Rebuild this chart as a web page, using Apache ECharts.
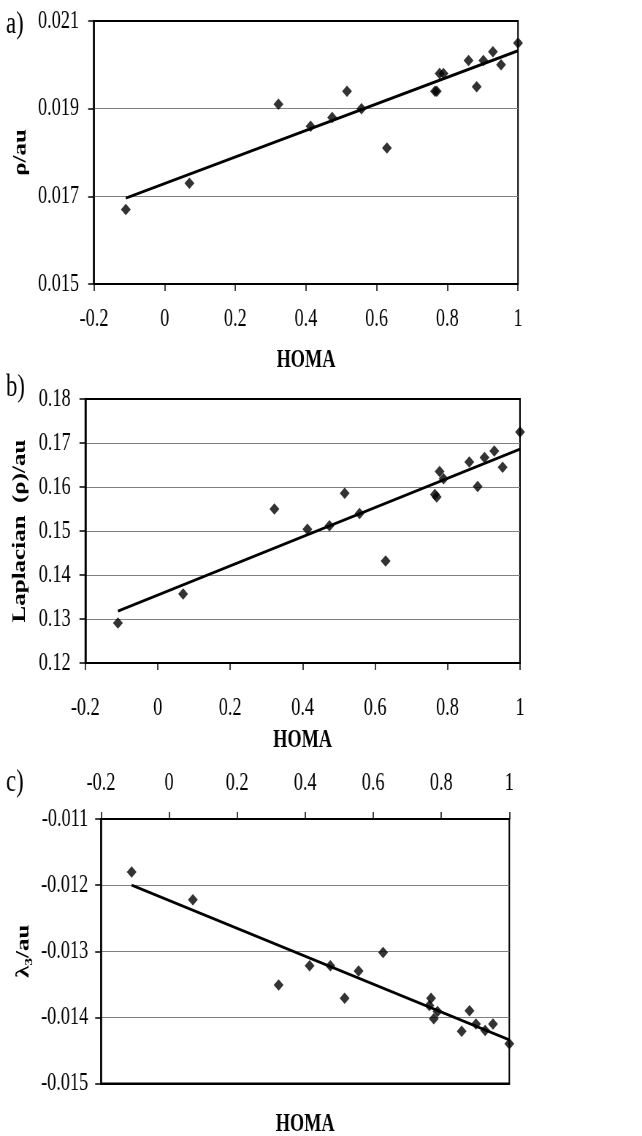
<!DOCTYPE html>
<html><head><meta charset="utf-8">
<script src="https://cdn.jsdelivr.net/npm/echarts@6/dist/echarts.min.js"></script>
<style>
html,body{margin:0;padding:0;background:#fff;overflow:hidden;}
#wrap{width:642px;height:1136px;overflow:hidden;position:relative;}
#chart{width:879px;height:1136px;transform:scaleX(0.7304);transform-origin:0 0;}
</style></head><body><div id="wrap"><div id="chart"></div></div>
<script>
// ---- data ----
const homa = [-0.11, 0.07, 0.322, 0.413, 0.474, 0.516, 0.557, 0.629, 0.765, 0.77, 0.778, 0.789, 0.86, 0.883, 0.902, 0.929, 0.952, 1.0];
const rhoA = [0.0167, 0.0173, 0.0191, 0.0186, 0.0188, 0.0194, 0.0190, 0.0181, 0.0194, 0.0194, 0.0198, 0.0198, 0.0201, 0.0195, 0.0201, 0.0203, 0.0200, 0.0205];
const lapB = [0.1291, 0.1357, 0.1550, 0.1504, 0.1512, 0.1586, 0.1540, 0.1432, 0.1583, 0.1577, 0.1635, 0.1619, 0.1657, 0.1601, 0.1667, 0.1682, 0.1645, 0.1725];
const lamC = [-0.0118, -0.01222, -0.01351, -0.01322, -0.01322, -0.01371, -0.0133, -0.01302, -0.01382, -0.01371, -0.01402, -0.01391, -0.01421, -0.0139, -0.0141, -0.0142, -0.0141, -0.0144];
const trendX = [-0.11, 1.0];
const trendA = [0.01696, 0.02032];
const trendB = [0.1318, 0.1686];
const trendC = [-0.0120, -0.01434];
const xTicks = [-0.2, 0, 0.2, 0.4, 0.6, 0.8, 1];
const yTicksA = [0.015, 0.017, 0.019, 0.021];
const yTicksB = [0.12, 0.13, 0.14, 0.15, 0.16, 0.17, 0.18];
const yTicksC = [-0.015, -0.014, -0.013, -0.012, -0.011];
const panelLabels = ['a)', 'b)', 'c)'];
const xName = 'HOMA';
const yNames = ['ρ/au', 'Laplacian  (ρ)/au', 'λ₃/au'];

// ---- layout helpers ----
const S = 0.7304;
const X = v => v / S;
const FF = '"Liberation Serif", "Times New Roman", serif';
const FS = 25;
const FS_PANEL = 31;

const grids = [
  {left: X(94), top: 21, width: X(518) - X(94), height: 263},
  {left: X(85.3), top: 399, width: X(520) - X(85.3), height: 264},
  {left: X(101), top: 819, width: X(509.3) - X(101), height: 264.5}
].map(g => Object.assign(g, {show: true, borderColor: '#000', borderWidth: 2, backgroundColor: 'transparent', outerBoundsMode: 'none', containLabel: false}));

function xAxis(gi, pos, margin, name, nameGap) {
  return {
    type: 'value', gridIndex: gi, position: pos, min: xTicks[0], max: xTicks[xTicks.length - 1],
    axisLine: {show: true, onZero: false, lineStyle: {color: '#000', width: 2}},
    axisTick: {show: true, inside: false, length: 7, customValues: xTicks, lineStyle: {color: '#000', width: 1.5}},
    axisLabel: {show: true, margin: margin, customValues: xTicks, fontFamily: FF, fontSize: FS, color: '#000', formatter: v => String(+v.toFixed(1))},
    splitLine: {show: false},
    name: name, nameLocation: 'middle', nameGap: nameGap,
    nameTextStyle: {fontFamily: FF, fontSize: FS, fontWeight: 'bold', color: '#000'}
  };
}
function yAxis(gi, ticks, margin, name, nameGap) {
  return {
    type: 'value', gridIndex: gi, min: ticks[0], max: ticks[ticks.length - 1],
    axisLine: {show: true, onZero: false, lineStyle: {color: '#000', width: 2.5}},
    axisTick: {show: true, inside: false, length: 8, customValues: ticks, lineStyle: {color: '#000', width: 1.5}},
    axisLabel: {show: true, margin: margin, customValues: ticks, fontFamily: FF, fontSize: FS, color: '#000', formatter: v => String(v)},
    splitLine: {show: true, showMinLine: false, showMaxLine: false, lineStyle: {color: '#808080', width: 1.2}},
    name: name, nameLocation: 'middle', nameGap: nameGap, nameRotate: 90,
    nameTextStyle: {fontFamily: FF, fontSize: FS, fontWeight: 'bold', color: '#000'}
  };
}

const xAxes = [
  xAxis(0, 'bottom', 23, xName, 64),
  xAxis(1, 'bottom', 33, xName, 65),
  xAxis(2, 'top', 23, '', 0),
  Object.assign(xAxis(2, 'bottom', 0, xName, 29), {axisTick: {show: false}, axisLabel: {show: false}})
];
const yAxes = [
  yAxis(0, yTicksA, 20.5, yNames[0], 86),
  yAxis(1, yTicksB, 20, yNames[1], 77),
  yAxis(2, yTicksC, 17.5, yNames[2], 93)
];

const ySets = [rhoA, lapB, lamC];
const trends = [trendA, trendB, trendC];
const xIdx = [0, 1, 2];
const series = [];
ySets.forEach((ys, i) => {
  series.push({
    type: 'line', xAxisIndex: xIdx[i], yAxisIndex: i, symbol: 'none', silent: true,
    lineStyle: {color: '#000', width: 3}, z: 2,
    data: trendX.map((x, k) => [x, trends[i][k]])
  });
  series.push({
    type: 'scatter', xAxisIndex: xIdx[i], yAxisIndex: i, symbol: 'diamond', symbolSize: [13.5, 11.5],
    itemStyle: {color: '#000'}, z: 3,
    data: homa.map((x, k) => [x, ys[k]])
  });
});

const labelTops = [9, 372.5, 767];
const graphic = panelLabels.map((t, i) => ({
  type: 'text', left: X(6), top: labelTops[i],
  style: {text: t, fontFamily: FF, fontSize: FS_PANEL, fill: '#000'}
}));

const chart = echarts.init(document.getElementById('chart'), null, {renderer: 'canvas'});
chart.setOption({
  animation: false,
  backgroundColor: '#fff',
  grid: grids,
  xAxis: xAxes,
  yAxis: yAxes,
  series: series,
  graphic: graphic
});
</script></body></html>
